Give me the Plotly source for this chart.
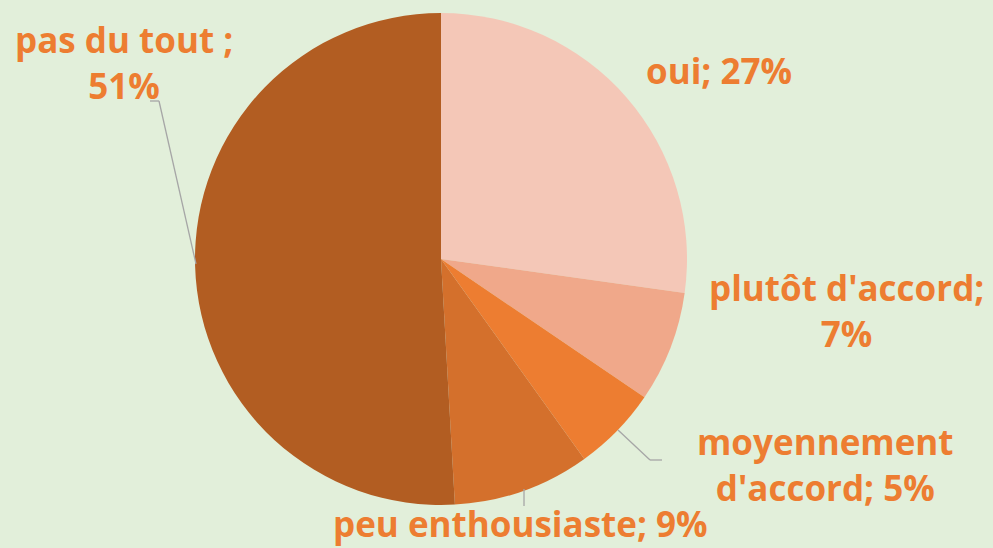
import plotly.graph_objects as go

labels = ["oui", "plutôt d'accord", "moyennement d'accord", "peu enthousiaste", "pas du tout"]
values = [27.2, 7.3, 5.6, 9.0, 50.9]
pct_text = ["27%", "7%", "5%", "9%", "51%"]
colors = ["#F4C7B7", "#F0A88A", "#ED7D31", "#D4702C", "#B25D22"]

W, H = 993, 548
BG = "#E2EFDA"
TXT = "#ED7D31"
LINE = "#A6A6A6"

fig = go.Figure(go.Pie(
    labels=labels,
    values=values,
    sort=False,
    direction="clockwise",
    rotation=0,
    marker=dict(colors=colors, line=dict(width=0)),
    textinfo="none",
    hoverinfo="label+percent",
    showlegend=False,
    domain=dict(x=[195/W, 687/W], y=[1-505/H, 1-13/H]),
))

def px(x, y):
    return x / W, 1 - y / H

# label layout: (label text, center x px, center y px)
label_pos = [
    (f"oui; {pct_text[0]}", 719, 70),
    (f"plutôt d'accord;<br>{pct_text[1]}", 846, 310),
    (f"moyennement<br>d'accord; {pct_text[2]}", 825, 464),
    (f"peu enthousiaste; {pct_text[3]}", 520, 523),
    (f"pas du tout ;<br>{pct_text[4]}", 124, 62),
]
ann = []
for t, x, y in label_pos:
    ax, ay = px(x, y)
    ann.append(dict(text=t, x=ax, y=ay, xref="paper", yref="paper",
                    showarrow=False, xanchor="center", yanchor="middle",
                    align="center", borderpad=0,
                    font=dict(family="Open Sans", size=35, color=TXT, weight="bold")))

leaders = [
    [(150, 101), (159, 101), (196, 264)],
    [(662, 460), (650, 460), (618, 430)],
    [(524, 506), (524, 489)],
]
shapes = []
for pts in leaders:
    for (x0, y0), (x1, y1) in zip(pts[:-1], pts[1:]):
        a0, b0 = px(x0, y0)
        a1, b1 = px(x1, y1)
        shapes.append(dict(type="line", xref="paper", yref="paper",
                           x0=a0, y0=b0, x1=a1, y1=b1,
                           line=dict(color=LINE, width=1.3)))

fig.update_layout(
    width=W, height=H,
    margin=dict(l=0, r=0, t=0, b=0),
    paper_bgcolor=BG, plot_bgcolor=BG,
    annotations=ann, shapes=shapes,
)
fig.write_html("out.html", config={"displayModeBar": False},
               post_script="document.body.style.margin='0';document.body.style.background='#E2EFDA';")
